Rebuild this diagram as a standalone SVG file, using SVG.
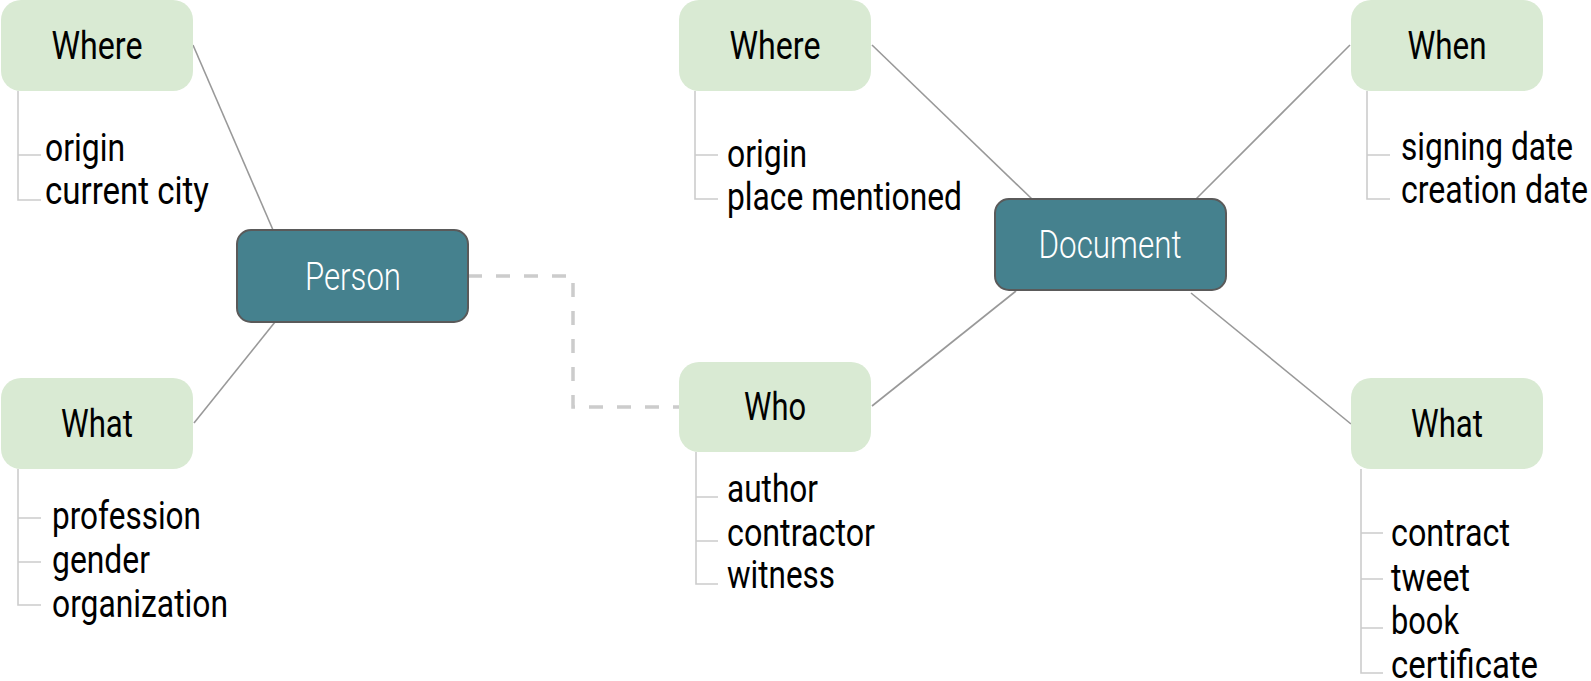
<svg xmlns="http://www.w3.org/2000/svg" width="1591" height="681" viewBox="0 0 1591 681">
<style>
text{font-family:Roboto,"DejaVu Sans Condensed",sans-serif}
.g{fill:#d9ead3}
.t{fill:#45818e;stroke:#5a5a5a;stroke-width:2}
.h{font-size:38px;fill:#000;text-anchor:middle}
.w{font-size:38px;font-weight:300;fill:#fff;text-anchor:middle}
.s{font-size:39px;fill:#000}
.c{stroke:#999;stroke-width:1.6;fill:none}
.d{stroke:#ccc;stroke-width:3.5;fill:none;stroke-dasharray:14 14}
.b{stroke:#ccc;stroke-width:1.6;fill:none}
</style>
<g id="connectors">
<line class="c" x1="193" y1="45" x2="273" y2="230"/>
<line class="c" x1="194" y1="423" x2="275" y2="322"/>
<path class="d" d="M468,276 H573 V407 H679"/>
<line class="c" x1="872" y1="406" x2="1016" y2="291"/>
<line class="c" x1="872" y1="45" x2="1032" y2="199"/>
<line class="c" x1="1350" y1="45" x2="1196" y2="199"/>
<line class="c" x1="1351" y1="424" x2="1191" y2="293"/>
</g>
<g id="where1">
<rect class="g" x="1" y="0" width="192" height="91" rx="20"/>
<text class="h" x="97" y="59" textLength="91" lengthAdjust="spacingAndGlyphs">Where</text>
<path class="b" d="M18,91 V200 H41 M18,155 H41"/>
<text class="s" x="45" y="161" textLength="80" lengthAdjust="spacingAndGlyphs">origin</text>
<text class="s" x="45" y="204" textLength="164" lengthAdjust="spacingAndGlyphs">current city</text>
</g>
<g id="what1">
<rect class="g" x="1" y="378" width="192" height="91" rx="20"/>
<text class="h" x="97" y="437" textLength="72" lengthAdjust="spacingAndGlyphs">What</text>
<path class="b" d="M18,469 V605 H41 M18,518 H41 M18,562 H41"/>
<text class="s" x="52" y="529" textLength="149" lengthAdjust="spacingAndGlyphs">profession</text>
<text class="s" x="52" y="573" textLength="98" lengthAdjust="spacingAndGlyphs">gender</text>
<text class="s" x="52" y="617" textLength="176" lengthAdjust="spacingAndGlyphs">organization</text>
</g>
<g id="person">
<rect class="t" x="237" y="230" width="231" height="92" rx="14"/>
<text class="w" x="353" y="290" textLength="96" lengthAdjust="spacingAndGlyphs">Person</text>
</g>
<g id="where2">
<rect class="g" x="679" y="0" width="192" height="91" rx="20"/>
<text class="h" x="775" y="59" textLength="91" lengthAdjust="spacingAndGlyphs">Where</text>
<path class="b" d="M695,91 V199 H718 M695,155 H718"/>
<text class="s" x="727" y="167" textLength="80" lengthAdjust="spacingAndGlyphs">origin</text>
<text class="s" x="727" y="210" textLength="235" lengthAdjust="spacingAndGlyphs">place mentioned</text>
</g>
<g id="who">
<rect class="g" x="679" y="362" width="192" height="90" rx="20"/>
<text class="h" x="775" y="420" textLength="62" lengthAdjust="spacingAndGlyphs">Who</text>
<path class="b" d="M696,452 V584 H718 M696,497 H718 M696,541 H718"/>
<text class="s" x="727" y="502" textLength="91" lengthAdjust="spacingAndGlyphs">author</text>
<text class="s" x="727" y="546" textLength="148" lengthAdjust="spacingAndGlyphs">contractor</text>
<text class="s" x="727" y="588" textLength="108" lengthAdjust="spacingAndGlyphs">witness</text>
</g>
<g id="document">
<rect class="t" x="995" y="199" width="231" height="91" rx="14"/>
<text class="w" x="1110" y="258" textLength="143" lengthAdjust="spacingAndGlyphs">Document</text>
</g>
<g id="when">
<rect class="g" x="1351" y="0" width="192" height="91" rx="20"/>
<text class="h" x="1447" y="59" textLength="79" lengthAdjust="spacingAndGlyphs">When</text>
<path class="b" d="M1367,91 V199 H1390 M1367,155 H1390"/>
<text class="s" x="1401" y="160" textLength="172" lengthAdjust="spacingAndGlyphs">signing date</text>
<text class="s" x="1401" y="203" textLength="187" lengthAdjust="spacingAndGlyphs">creation date</text>
</g>
<g id="what2">
<rect class="g" x="1351" y="378" width="192" height="91" rx="20"/>
<text class="h" x="1447" y="437" textLength="72" lengthAdjust="spacingAndGlyphs">What</text>
<path class="b" d="M1361,469 V673 H1383 M1361,533 H1383 M1361,579 H1383 M1361,628 H1383"/>
<text class="s" x="1391" y="546" textLength="119" lengthAdjust="spacingAndGlyphs">contract</text>
<text class="s" x="1391" y="591" textLength="79" lengthAdjust="spacingAndGlyphs">tweet</text>
<text class="s" x="1391" y="634" textLength="68" lengthAdjust="spacingAndGlyphs">book</text>
<text class="s" x="1391" y="678" textLength="147" lengthAdjust="spacingAndGlyphs">certificate</text>
</g>
</svg>
